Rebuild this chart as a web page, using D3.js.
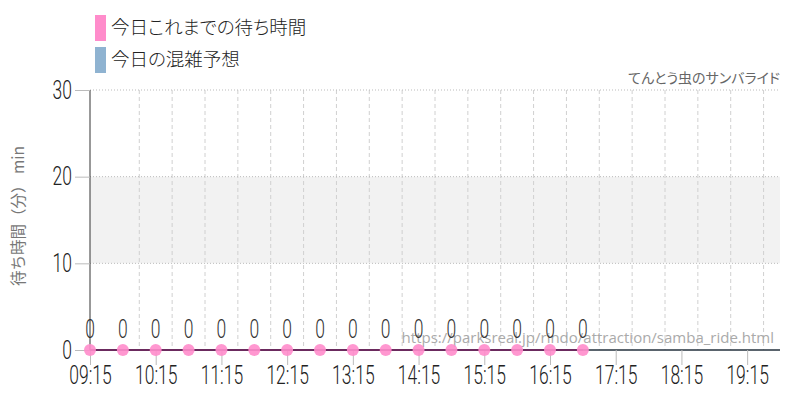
<!DOCTYPE html>
<html>
<head>
<meta charset="utf-8">
<script src="https://cdn.jsdelivr.net/npm/d3@7"></script>
<style>
  body { margin: 0; background: #fff; }
  svg { display: block; }
  .jp { font-feature-settings: "palt"; }
</style>
</head>
<body>
<div id="chart"></div>
<script>
const times = ['09:15', '09:45', '10:15', '10:45', '11:15', '11:45', '12:15', '12:45',
  '13:15', '13:45', '14:15', '14:45', '15:15', '15:45', '16:15', '16:45'];
const waits = [0, 0, 0, 0, 0, 0, 0, 0, 0, 0, 0, 0, 0, 0, 0, 0];
const hourTicks = ['09:15', '10:15', '11:15', '12:15', '13:15', '14:15', '15:15',
  '16:15', '17:15', '18:15', '19:15'];
const yTicks = [0, 10, 20, 30];
const band = [10, 20];
const legendItems = ['今日これまでの待ち時間', '今日の混雑予想'];
const legendColors = ['#ff8ccb', '#8fb3d1'];

const parse = d3.timeParse('%H:%M');
const width = 800, height = 400;
const margin = { top: 90, right: 20, bottom: 50, left: 90 };
const numFont = 'Roboto, sans-serif';
const squeeze = 0.7;
const jpFont = '"Noto Sans CJK JP", sans-serif';

const svg = d3.select('#chart').append('svg')
  .attr('width', width)
  .attr('height', height);

const x = d3.scaleTime()
  .domain([parse('09:15'), parse('19:45')])
  .range([margin.left, width - margin.right]);
const y = d3.scaleLinear()
  .domain([0, 30])
  .range([height - margin.bottom, margin.top]);

// shaded band
svg.append('rect')
  .attr('x', x.range()[0])
  .attr('y', y(band[1]))
  .attr('width', x.range()[1] - x.range()[0])
  .attr('height', y(band[0]) - y(band[1]))
  .attr('fill', '#f2f2f2');

// vertical grid every 30 min
const gridTimes = d3.timeMinute.every(30).range(parse('09:45'), d3.timeMinute.offset(parse('19:45'), 1));
svg.append('g').selectAll('line')
  .data(gridTimes)
  .enter().append('line')
  .attr('x1', d => x(d)).attr('x2', d => x(d))
  .attr('y1', y(30)).attr('y2', y(0))
  .attr('stroke', '#d0d0d0')
  .attr('stroke-dasharray', d => d.getMinutes() === 15 ? '1,2' : '4,3');

// horizontal grid
svg.append('g').selectAll('line')
  .data(yTicks.filter(d => d > 0))
  .enter().append('line')
  .attr('x1', x.range()[0]).attr('x2', x.range()[1])
  .attr('y1', d => y(d)).attr('y2', d => y(d))
  .attr('stroke', '#bbb')
  .attr('stroke-dasharray', '1,2');

// y axis
const yAxis = svg.append('g')
  .attr('transform', `translate(${margin.left},0)`)
  .call(d3.axisLeft(y).tickValues(yTicks).tickSize(15).tickPadding(3));
yAxis.select('.domain').attr('stroke', '#333').attr('d', `M0,${y(0)}V${y(30)}`);
yAxis.selectAll('.tick line').attr('stroke', '#bbb');
yAxis.selectAll('.tick text')
  .attr('x', -18 / squeeze)
  .attr('transform', `scale(${squeeze},1)`)
  .attr('font-family', numFont)
  .attr('font-size', 25)
  .attr('font-weight', 300)
  .attr('fill', '#222');

// x axis
const xAxis = svg.append('g')
  .attr('transform', `translate(0,${y(0)})`)
  .call(d3.axisBottom(x).tickValues(hourTicks.map(parse)).tickFormat(d3.timeFormat('%H:%M')).tickSize(15).tickPadding(1));
xAxis.select('.domain').attr('stroke', '#23303d').attr('stroke-width', 1.5)
  .attr('d', `M${x.range()[0]},0H${x.range()[1]}`);
xAxis.selectAll('.tick line').attr('stroke', '#bbb');
xAxis.selectAll('.tick text')
  .attr('transform', `scale(${squeeze},1)`)
  .attr('font-family', numFont)
  .attr('font-size', 25)
  .attr('font-weight', 300)
  .attr('fill', '#222');

// watermark
svg.append('text')
  .attr('x', 774)
  .attr('y', 343)
  .attr('text-anchor', 'end')
  .attr('font-family', '"Open Sans", sans-serif')
  .attr('font-size', 15)
  .attr('fill', '#aaa')
  .text('https://parksreal.jp/rindo/attraction/samba_ride.html');

// series line
const pts = times.map((t, i) => ({ t: parse(t), v: waits[i] }));
svg.append('path')
  .datum(pts)
  .attr('fill', 'none')
  .attr('stroke', '#6b2a5e')
  .attr('stroke-width', 2)
  .attr('d', d3.line().x(d => x(d.t)).y(d => y(d.v)));

svg.append('g').selectAll('circle')
  .data(pts)
  .enter().append('circle')
  .attr('cx', d => x(d.t))
  .attr('cy', d => y(d.v))
  .attr('r', 6)
  .attr('fill', '#ff8ccb')
  .attr('fill-opacity', 0.9);

svg.append('g').selectAll('text')
  .data(pts)
  .enter().append('text')
  .attr('transform', d => `translate(${x(d.t)},${y(d.v) - 12}) scale(${squeeze},1)`)
  .attr('text-anchor', 'middle')
  .attr('font-family', numFont)
  .attr('font-size', 25)
  .attr('font-weight', 300)
  .attr('fill', '#333')
  .text(d => d.v);

// y title
svg.append('text')
  .attr('transform', `translate(24,216) rotate(-90)`)
  .attr('text-anchor', 'middle')
  .attr('font-family', jpFont)
  .attr('font-size', 15.5)
  .attr('fill', '#777')
  .text('待ち時間（分） min');

// subtitle
svg.append('text')
  .attr('class', 'jp')
  .attr('x', 780)
  .attr('y', 83)
  .attr('text-anchor', 'end')
  .attr('font-family', jpFont)
  .attr('font-size', 14)
  .attr('fill', '#666')
  .text('てんとう虫のサンバライド');

// legend
const legend = svg.append('g').selectAll('g')
  .data(legendItems)
  .enter().append('g')
  .attr('transform', (_, i) => `translate(95,${15 + i * 32})`);
legend.append('rect')
  .attr('width', 11)
  .attr('height', 26)
  .attr('fill', (_, i) => legendColors[i]);
legend.append('text')
  .attr('class', 'jp')
  .attr('x', 16)
  .attr('y', 13)
  .attr('dy', '0.35em')
  .attr('font-family', jpFont)
  .attr('font-size', 18.5)
  .attr('font-weight', 300)
  .attr('fill', '#222')
  .text(d => d);
</script>
</body>
</html>
